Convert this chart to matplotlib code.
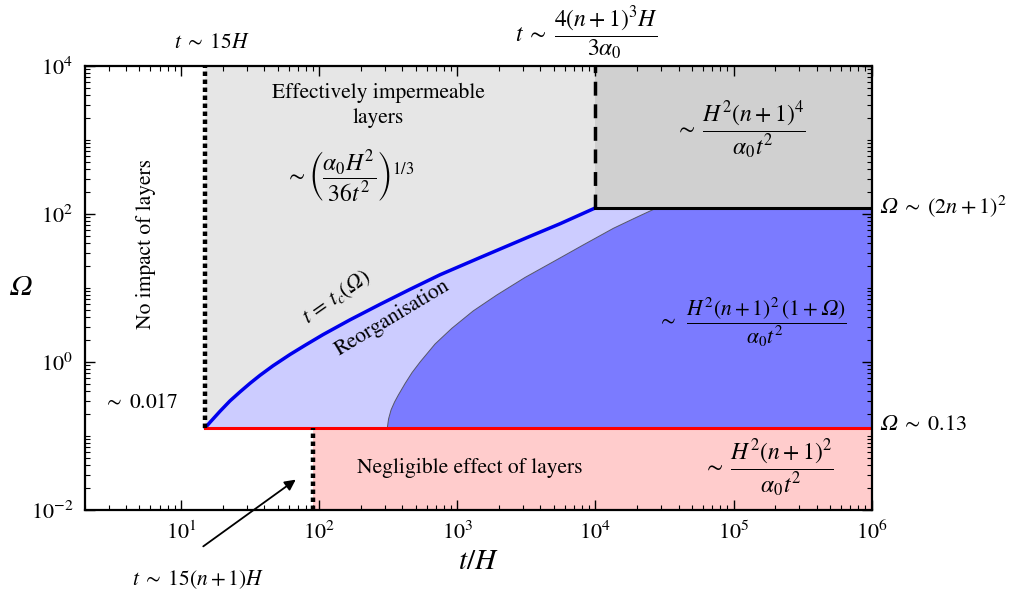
import numpy as np
import matplotlib
matplotlib.use('Agg')
import matplotlib.pyplot as plt
from matplotlib.ticker import LogLocator, NullFormatter

plt.rcParams['font.family'] = ['STIXGeneral', 'DejaVu Serif']
plt.rcParams['mathtext.fontset'] = 'stix'

OM = '\U0001D6FA'  # italic capital omega

# regime boundaries (n = 5)
t_left = 15            # t ~ 15H
t_neg = 90             # t ~ 15(n+1)H
t_perm = 1e4           # t ~ 4(n+1)^3 H / (3 alpha0)
omega_low = 0.13       # Omega ~ 0.13
omega_high = 121       # Omega ~ (2n+1)^2

# t = t_c(Omega) curve
tc_t = [15, 16.2, 19.15, 22.6, 26.7, 31.6, 37.3, 46.4, 61.5, 79.0, 106.7,
        167, 276, 455, 750, 1462, 3365, 5549, 1e4]
tc_omega = [0.13, 0.153, 0.216, 0.298, 0.394, 0.516, 0.661, 0.891, 1.263, 1.681, 2.346,
            3.71, 6.02, 9.60, 15.1, 25.8, 50.0, 73.9, 121]

# thin boundary of the dark blue region
inner_t = [311.6, 317.9, 331.4, 351.3, 374.3, 418.7, 470.6, 537.7, 690, 912, 1301,
           1931, 3095, 4963, 8141, 13495, 19700, 27810]
inner_omega = [0.13, 0.170, 0.225, 0.288, 0.358, 0.512, 0.721, 1.0, 1.75, 2.85, 4.89,
               8.04, 13.9, 22.7, 38.1, 64.1, 89.7, 121]

xlim = (2, 1e6)
ylim = (1e-2, 1e4)

W, H = 1011, 599
fig = plt.figure(figsize=(W / 100, H / 100), dpi=100)
ax = fig.add_axes([84.5 / W, 1 - 510 / H, (871.7 - 84.5) / W, (510 - 66) / H])
ax.set_xscale('log')
ax.set_yscale('log')
ax.set_xlim(*xlim)
ax.set_ylim(*ylim)

def fx(x, y):
    # pixel position -> figure fraction
    return x / W, 1 - y / H

# regions
grey_x = [t_left, t_left] + tc_t + [t_perm]
grey_y = [ylim[1], omega_low] + tc_omega + [ylim[1]]
ax.fill(grey_x, grey_y, color='#e6e6e6', lw=0, zorder=1)

ax.fill([t_perm, xlim[1], xlim[1], t_perm], [omega_high, omega_high, ylim[1], ylim[1]],
        color='#d0d0d0', lw=0, zorder=1)

lb_x = tc_t + inner_t[::-1]
lb_y = tc_omega + inner_omega[::-1]
ax.fill(lb_x, lb_y, color='#ccccff', lw=0, zorder=1)

db_x = inner_t + [xlim[1], xlim[1]]
db_y = inner_omega + [omega_high, omega_low]
ax.fill(db_x, db_y, color='#7b7bff', lw=0, zorder=1)
ax.plot(inner_t, inner_omega, color='#555566', lw=0.7, zorder=2)

ax.fill([t_neg, xlim[1], xlim[1], t_neg], [ylim[0], ylim[0], omega_low, omega_low],
        color='#ffcccc', lw=0, zorder=1)

# boundary lines
ax.plot(tc_t, tc_omega, color='#0000ee', lw=2.5, zorder=3)
ax.plot([t_left, xlim[1]], [omega_low, omega_low], color='#ff0000', lw=2.2, zorder=3)
ax.plot([t_perm, xlim[1]], [omega_high, omega_high], color='black', lw=2.2, zorder=3)
ax.plot([t_left, t_left], [omega_low, ylim[1]], color='black', lw=3.2,
        linestyle=(0, (1, 0.8)), zorder=4)
ax.plot([t_neg, t_neg], [ylim[0], omega_low], color='black', lw=3.2,
        linestyle=(0, (1, 0.8)), zorder=4)
ax.plot([t_perm, t_perm], [omega_high, ylim[1]], color='black', lw=2.5,
        linestyle=(0, (4, 2.5)), zorder=4)

# ticks
ax.xaxis.set_major_locator(LogLocator(base=10, numticks=20))
ax.xaxis.set_minor_locator(LogLocator(base=10, subs=np.arange(2, 10), numticks=20))
ax.xaxis.set_minor_formatter(NullFormatter())
ax.set_yticks([1e-2, 1e0, 1e2, 1e4])
ax.yaxis.set_minor_locator(LogLocator(base=10, subs=np.arange(1, 10), numticks=20))
ax.yaxis.set_minor_formatter(NullFormatter())
ax.tick_params(which='both', direction='in', top=True, right=True, labelsize=16, pad=8)
ax.tick_params(which='major', length=7, width=1)
ax.tick_params(which='minor', length=3.5, width=0.8)
for s in ax.spines.values():
    s.set_linewidth(1.6)
    s.set_zorder(5)

ax.set_xlabel(r'$t/H$', fontsize=21, labelpad=4)
ax.set_ylabel(r'$' + OM + '$', fontsize=21, rotation=0, va='center')
ax.yaxis.set_label_coords(-0.081, 0.5)

fs = 15.5
ff = 17
# text inside the plot
ax.text(0.078, 0.60, 'No impact of layers', transform=ax.transAxes, rotation=90,
        ha='center', va='center', fontsize=fs)
ax.text(0.373, 0.912, 'Effectively impermeable\nlayers', transform=ax.transAxes,
        ha='center', va='center', fontsize=fs, linespacing=1.35)
fig.text(*fx(350, 177), r'$\sim\left(\dfrac{\alpha_0H^2}{36t^2}\right)^{1/3}$',
         ha='center', va='center', fontsize=ff)
fig.text(*fx(740, 130), r'$\sim\;\dfrac{H^2(n+1)^4}{\alpha_0t^2}$',
         ha='center', va='center', fontsize=ff)
fig.text(*fx(752, 322), r'$\sim\;\;\dfrac{H^2(n+1)^2\,(1+' + OM + r')}{\alpha_0t^2}$',
         ha='center', va='center', fontsize=15.5)
fig.text(*fx(768, 468), r'$\sim\;\dfrac{H^2(n+1)^2}{\alpha_0t^2}$',
         ha='center', va='center', fontsize=ff)
fig.text(*fx(470, 468), 'Negligible effect of layers', ha='center', va='center', fontsize=fs)
fig.text(*fx(141, 403), r'$\sim\ 0.017$', ha='center', va='center', fontsize=fs)
fig.text(*fx(337, 297), r'$t\,=\,t_c(' + OM + ')$', ha='center', va='center',
         fontsize=fs, rotation=35)
fig.text(*fx(392, 318), 'Reorganisation', ha='center', va='center', fontsize=fs, rotation=31)

# text outside the plot
fig.text(*fx(879, 206), r'$' + OM + r'\;\sim\;(2n+1)^2$', ha='left', va='center', fontsize=16)
fig.text(*fx(879, 425), r'$' + OM + r'\;\sim\;0.13$', ha='left', va='center', fontsize=16)
fig.text(*fx(212, 43), r'$t\;\sim\;15H$', ha='center', va='center', fontsize=fs)
fig.text(*fx(587, 33), r'$t\;\sim\;\dfrac{4(n+1)^3H}{3\alpha_0}$', ha='center', va='center',
         fontsize=ff)
fig.text(*fx(198, 580), r'$t\;\sim\;15(n+1)H$', ha='center', va='center', fontsize=fs)
ax.annotate('', xy=fx(298, 478), xycoords='figure fraction',
            xytext=fx(201, 548), textcoords='figure fraction',
            arrowprops=dict(arrowstyle='-|>', color='black', lw=1.3, mutation_scale=16),
            annotation_clip=False)

fig.savefig('out.png', dpi=100)
